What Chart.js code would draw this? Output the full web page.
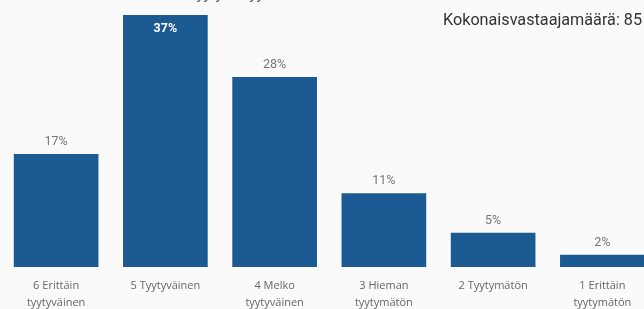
<!DOCTYPE html>
<html>
<head>
<meta charset="utf-8">
<script src="https://cdn.jsdelivr.net/npm/chart.js@4/dist/chart.umd.min.js"></script>
<style>
  html, body { margin: 0; padding: 0; background: #fafafa; width: 644px; height: 309px; overflow: hidden; position: relative; }
  #wrap { position: absolute; left: 0; top: 0; width: 657px; height: 321px; }
  #total { position: absolute; left: 443px; top: 10px; font-family: Roboto, sans-serif; font-size: 16.2px; color: #333; white-space: nowrap; line-height: 20px; }
  #title { position: absolute; left: 188px; top: -13px; font-family: Roboto, sans-serif; font-size: 15px; line-height: 15px; color: #555; white-space: nowrap; }
</style>
</head>
<body>
<div id="title">Tyytyväisyys</div>
<div id="wrap"><canvas id="c"></canvas></div>
<div id="total">Kokonaisvastaajamäärä: 85</div>
<script>
const categories = [
  ["6 Erittäin", "tyytyväinen"],
  ["5 Tyytyväinen"],
  ["4 Melko", "tyytyväinen"],
  ["3 Hieman", "tyytymätön"],
  ["2 Tyytymätön"],
  ["1 Erittäin", "tyytymätön"]
];
const shares = [16.6, 37.0, 27.9, 10.8, 5.0, 1.8];
const shareLabels = ["17%", "37%", "28%", "11%", "5%", "2%"];

const valueLabels = {
  id: 'valueLabels',
  afterDatasetsDraw(chart) {
    const ctx = chart.ctx;
    const meta = chart.getDatasetMeta(0);
    ctx.save();
    ctx.textAlign = 'center';
    ctx.textBaseline = 'middle';
    meta.data.forEach((bar, i) => {
      const top = bar.y;
      if (top < 30) {
        ctx.fillStyle = '#ffffff';
        ctx.font = 'bold 12.5px Roboto, sans-serif';
        ctx.fillText(shareLabels[i], bar.x, top + 14);
      } else {
        ctx.fillStyle = '#777777';
        ctx.font = '12.5px Roboto, sans-serif';
        ctx.fillText(shareLabels[i], bar.x, top - 12);
      }
    });
    ctx.restore();
  }
};

new Chart(document.getElementById('c'), {
  type: 'bar',
  data: {
    labels: categories,
    datasets: [{
      data: shares,
      backgroundColor: '#1B5A92',
      borderWidth: 0,
      categoryPercentage: 1.0,
      barPercentage: 0.775
    }]
  },
  options: {
    responsive: true,
    maintainAspectRatio: false,
    animation: false,
    layout: { padding: { left: 1.5, right: 0, top: 0, bottom: 0 } },
    plugins: { legend: { display: false }, tooltip: { enabled: false } },
    scales: {
      x: {
        grid: { display: false, drawTicks: false },
        border: { display: false },
        ticks: {
          font: { family: 'Open Sans', size: 11, lineHeight: 1.55 },
          color: '#666666',
          padding: 10,
          maxRotation: 0,
          autoSkip: false
        }
      },
      y: {
        display: false,
        min: 0,
        max: 39.2
      }
    }
  },
  plugins: [valueLabels]
});
</script>
</body>
</html>
